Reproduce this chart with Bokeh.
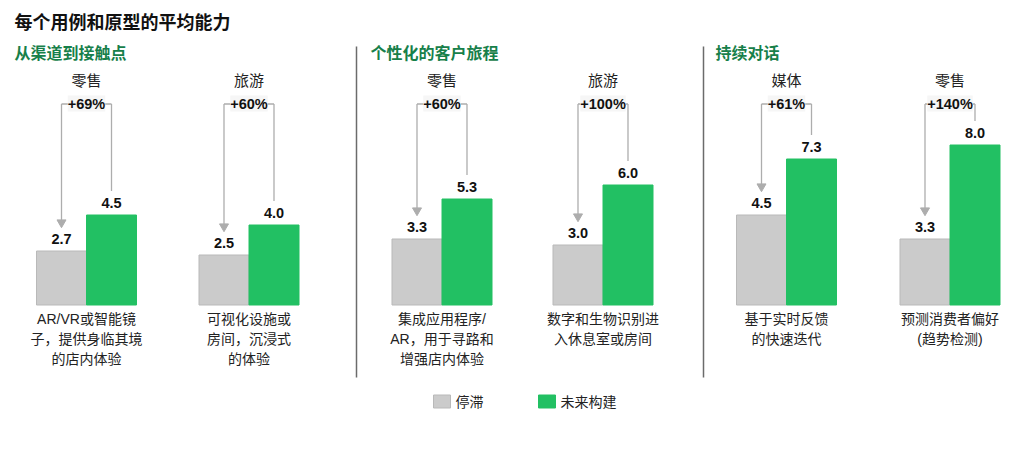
from bokeh.plotting import figure
from bokeh.models import Range1d
from bokeh.core.properties import value
from bokeh.embed import file_html
from bokeh.resources import INLINE

# ---------------- data ----------------
title = "每个用例和原型的平均能力"
sections = ["从渠道到接触点", "个性化的客户旅程", "持续对话"]
groups = ["零售", "旅游", "零售", "旅游", "媒体", "零售"]
descriptions = [
    "AR/VR或智能镜\n子，提供身临其境\n的店内体验",
    "可视化设施或\n房间，沉浸式\n的体验",
    "集成应用程序/\nAR，用于寻路和\n增强店内体验",
    "数字和生物识别进\n入休息室或房间",
    "基于实时反馈\n的快速迭代",
    "预测消费者偏好\n(趋势检测)",
]
stagnant = [2.7, 2.5, 3.3, 3.0, 4.5, 3.3]
future = [4.5, 4.0, 5.3, 6.0, 7.3, 8.0]
uplift = ["+69%", "+60%", "+60%", "+100%", "+61%", "+140%"]
legend_labels = ["停滞", "未来构建"]

# ---------------- style / layout ----------------
GRAY = "#cbcbcb"
GRAY_EDGE = "#b9b9b9"
GREEN = "#22c063"
HEAD_GREEN = "#17804a"
ARROW = "#adadad"
FONT = "Liberation Sans, Noto Sans CJK SC"

W, H = 1002, 434
ORIGIN = 0        # page offset of the figure
BASE = 304.5      # page y of bar baseline
S = 20.0          # px per unit

def py(y):
    return (BASE - y) / S

pair_x = [86, 248.5, 441.5, 602.5, 786, 949.5]
section_x = [14, 370, 715]
sep_x = [356, 703]
BW = 50

p = figure(width=W, height=H, x_range=Range1d(ORIGIN, ORIGIN + W),
           y_range=Range1d(py(ORIGIN + H), py(ORIGIN)),
           x_axis_type=None, y_axis_type=None,
           output_backend="svg", toolbar_location=None, min_border=0)
p.grid.visible = False
p.outline_line_color = None
p.background_fill_color = "white"
p.border_fill_color = "white"

gx = [c - BW / 2 for c in pair_x]
fx = [c + BW / 2 for c in pair_x]

# bars
p.vbar(x=gx, width=BW, top=stagnant, bottom=0, fill_color=GRAY,
       line_color=GRAY_EDGE, line_width=1)
p.vbar(x=fx, width=BW, top=future, bottom=0, fill_color=GREEN,
       line_color=GREEN, line_width=1)

# value labels
p.text(x=gx, y=[v + 12 / S for v in stagnant], text=[f"{v:.1f}" for v in stagnant],
       text_align="center", text_baseline="middle", text_font=value(FONT),
       text_font_size="14.5px", text_font_style="bold", text_color="#111111")
p.text(x=fx, y=[v + 12 / S for v in future], text=[f"{v:.1f}" for v in future],
       text_align="center", text_baseline="middle", text_font=value(FONT),
       text_font_size="14.5px", text_font_style="bold", text_color="#111111")

# bracket arrows
top_y = py(103.5)
p.segment(x0=gx, y0=[top_y] * 6, x1=fx, y1=[top_y] * 6, line_color=ARROW, line_width=1.3)
p.segment(x0=gx, y0=[top_y] * 6, x1=gx, y1=[v + 29 / S for v in stagnant],
          line_color=ARROW, line_width=1.3)
p.segment(x0=fx, y0=[top_y] * 6, x1=fx, y1=[v + 24 / S for v in future],
          line_color=ARROW, line_width=1.3)
p.scatter(x=gx, y=[v + 28.5 / S for v in stagnant], marker="inverted_triangle",
          size=9, fill_color=ARROW, line_color=ARROW)

p.text(x=pair_x, y=[py(103)] * 6, text=uplift, text_align="center",
       text_baseline="middle", text_font=value(FONT), text_font_size="14.5px",
       text_font_style="bold", text_color="#111111",
       background_fill_color="#f6f6f6", padding=0)

# group labels
p.text(x=pair_x, y=[py(80)] * 6, text=groups, text_align="center",
       text_baseline="middle", text_font=value(FONT), text_font_size="15px",
       text_color="#222222")

# descriptions
p.text(x=pair_x, y=[py(310)] * 6, text=descriptions, text_align="center",
       text_baseline="top", text_font=value(FONT), text_font_size="14px",
       text_line_height=1.25, text_color="#222222")

# title & section headers
p.text(x=[14], y=[py(22)], text=[title], text_align="left", text_baseline="middle",
       text_font=value(FONT), text_font_size="18px", text_font_style="bold",
       text_color="#111111")
p.text(x=section_x, y=[py(53)] * 3, text=sections, text_align="left",
       text_baseline="middle", text_font=value(FONT), text_font_size="16px",
       text_font_style="bold", text_color=HEAD_GREEN)

# separators
p.segment(x0=sep_x, y0=[py(46)] * 2, x1=sep_x, y1=[py(377)] * 2,
          line_color="#6b6b6b", line_width=1.5)

# legend
leg_sq_x = [441.5, 546.5]
leg_txt_x = [455, 560]
leg_colors = [GRAY, GREEN]
leg_edges = [GRAY_EDGE, GREEN]
p.rect(x=leg_sq_x, y=[py(401)] * 2, width=17, height=13, width_units="screen",
       height_units="screen", fill_color=leg_colors, line_color=leg_edges)
p.text(x=leg_txt_x, y=[py(401)] * 2, text=legend_labels, text_align="left",
       text_baseline="middle", text_font=value(FONT), text_font_size="14px",
       text_color="#222222")

open("out.html", "w").write(file_html(p, INLINE))
